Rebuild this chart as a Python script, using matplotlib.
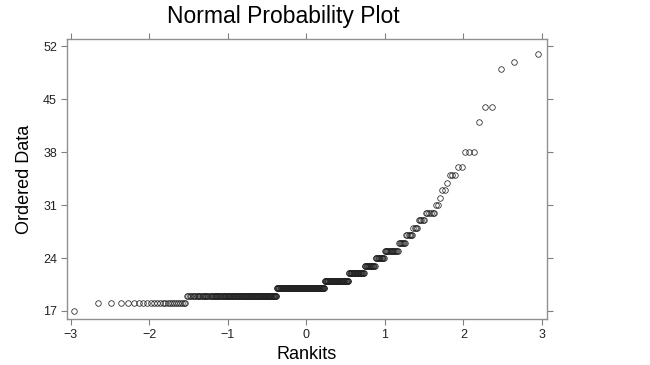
#!/usr/bin/env python3
"""Normal probability plot: ordered data against rankits (Blom positions)."""
from statistics import NormalDist
import numpy as np
import matplotlib
matplotlib.use("Agg")
import matplotlib.pyplot as plt

plt.rcParams["font.family"] = ["Liberation Sans", "DejaVu Sans"]

values = [17, 18, 19, 20, 21, 22, 23, 24, 25, 26, 27, 28, 29, 30,
          31, 32, 33, 34, 35, 36, 38, 42, 44, 49, 50, 51]
counts = [1, 24, 116, 96, 45, 26, 16, 12, 16, 7, 6, 4, 5, 6,
          2, 1, 2, 1, 3, 2, 3, 1, 2, 1, 1, 1]
xticks = [-3, -2, -1, 0, 1, 2, 3]
yticks = [17, 24, 31, 38, 45, 52]

ordered = np.repeat(values, counts)
n = len(ordered)
nd = NormalDist()
rankits = np.array([nd.inv_cdf((i - 0.375) / (n + 0.25)) for i in range(1, n + 1)])

fig = plt.figure(figsize=(6.5, 3.65), dpi=100)
ax = fig.add_axes([0.1038, 0.126, 0.7373, 0.7663])
ax.plot(rankits, ordered, "o", mfc="none", mec="#222222", ms=4.0, mew=0.55)

ax.set_xlim(-3.04, 3.06)
ax.set_ylim(15.94, 52.95)
ax.set_xticks(xticks)
ax.set_yticks(yticks)
ax.tick_params(direction="out", length=4, width=0.8, color="#808080",
               labelsize=9, labelcolor="#222222",
               top=True, right=True, labeltop=False, labelright=False)
for s in ax.spines.values():
    s.set_color("#909090")
    s.set_linewidth(1.0)

ax.set_xlabel("Rankits", fontsize=13, labelpad=3)
ax.set_ylabel("Ordered Data", fontsize=13, labelpad=7)
fig.text(283 / 650, 1 - 23 / 365, "Normal Probability Plot", fontsize=16.5,
         ha="center", va="baseline")

fig.savefig("out.png", dpi=100)
